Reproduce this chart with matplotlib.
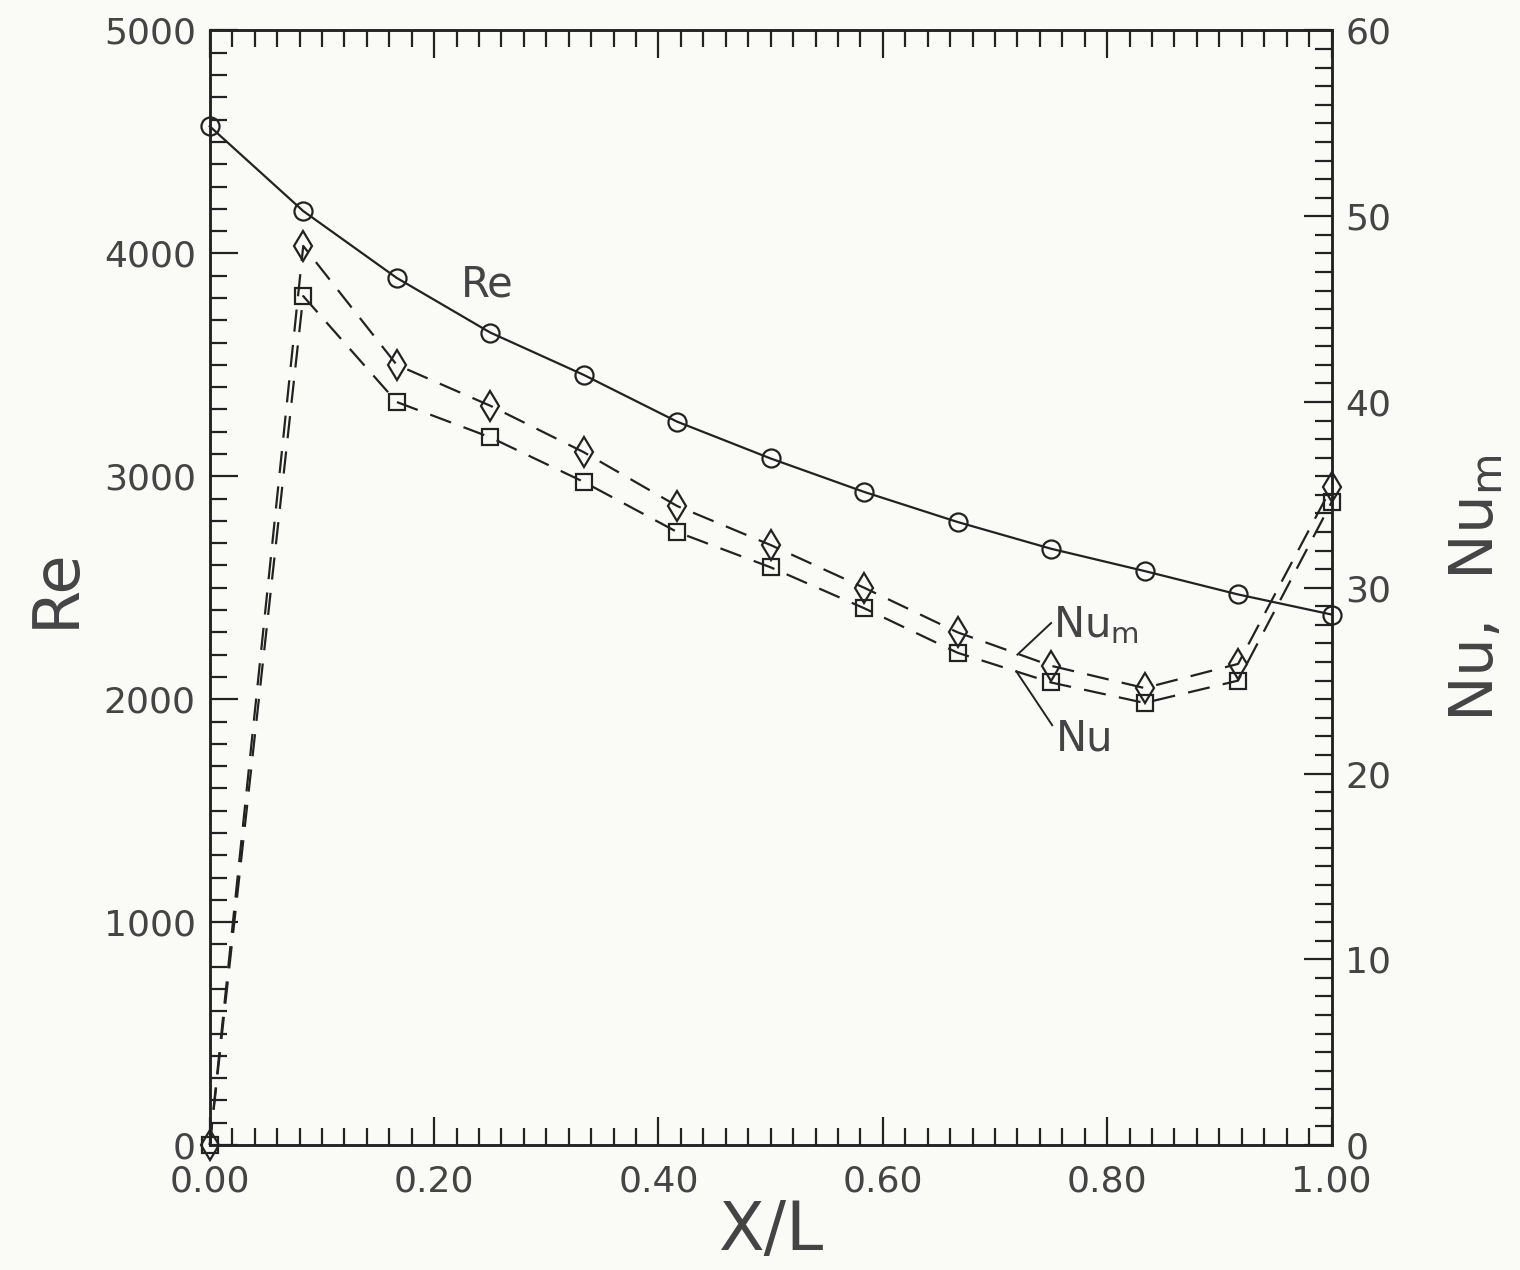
import numpy as np
import matplotlib
matplotlib.use('Agg')
import matplotlib.pyplot as plt
from matplotlib.ticker import MultipleLocator, FormatStrFormatter

# data
x_over_l = [0, 1/12, 2/12, 3/12, 4/12, 5/12, 6/12, 7/12, 8/12, 9/12, 10/12, 11/12, 1.0]
re_vals = [4570, 4190, 3890, 3645, 3455, 3245, 3080, 2930, 2795, 2675, 2575, 2470, 2380]
nu_m_vals = [0, 48.4, 42.0, 39.8, 37.3, 34.4, 32.3, 30.0, 27.6, 25.8, 24.6, 25.9, 35.4]
nu_vals = [0, 45.7, 40.0, 38.1, 35.7, 33.0, 31.1, 28.9, 26.5, 24.9, 23.8, 25.0, 34.6]

bg = '#fafaf7'
ink = '#222222'
txt = '#444444'
plt.rcParams['font.family'] = ['DejaVu Sans']

fig = plt.figure(figsize=(15.2, 12.7), dpi=100, facecolor=bg)
ax = fig.add_axes([0.138, 0.0984, 0.738, 0.8776])
ax.set_facecolor(bg)
ax2 = ax.twinx()

# Re curve on the left axis
ax.plot(x_over_l, re_vals, '-', color=ink, lw=1.6, marker='o', ms=13,
        mfc='none', mec=ink, mew=1.6, clip_on=False, zorder=5)

# Nu and Nu_m on the right axis
ax2.plot(x_over_l, nu_m_vals, color=ink, lw=1.6, dashes=(10, 6), marker='d',
         ms=15, mfc='none', mec=ink, mew=1.6, clip_on=False)
ax2.plot(x_over_l, nu_vals, color=ink, lw=1.6, dashes=(10, 6), marker='s',
         ms=11, mfc='none', mec=ink, mew=1.6, clip_on=False)

ax.set_xlim(0, 1)
ax.set_ylim(0, 5000)
ax2.set_ylim(0, 60)

ax.xaxis.set_major_locator(MultipleLocator(0.2))
ax.xaxis.set_minor_locator(MultipleLocator(0.02))
ax.yaxis.set_major_locator(MultipleLocator(1000))
ax.yaxis.set_minor_locator(MultipleLocator(100))
ax2.yaxis.set_major_locator(MultipleLocator(10))
ax2.yaxis.set_minor_locator(MultipleLocator(1))
ax.xaxis.set_major_formatter(FormatStrFormatter('%.2f'))
ax.yaxis.set_major_formatter(FormatStrFormatter('%d'))

ax.tick_params(axis='x', which='both', direction='in', top=True, bottom=True,
               color=ink, width=1.6, labelsize=26, labelcolor=txt, pad=14)
ax.tick_params(axis='y', which='both', direction='in', left=True, right=False,
               color=ink, width=1.6, labelsize=26, labelcolor=txt, pad=10)
ax2.tick_params(axis='y', which='both', direction='in', color=ink, width=1.6,
                labelsize=26, labelcolor=txt, pad=10)
for a in (ax, ax2):
    a.tick_params(which='major', length=20)
    a.tick_params(which='minor', length=12)
    for s in a.spines.values():
        s.set_color(ink)
        s.set_linewidth(1.8)

ax.set_xlabel('X/L', fontsize=48, color=txt, labelpad=0)
ax.set_ylabel('Re', fontsize=46, color=txt, labelpad=12)
ax2.set_ylabel(r'Nu,  Nu$_\mathregular{m}$', fontsize=44, color=txt,
               labelpad=40)

# curve labels with leader lines
ax.text(0.224, 3860, 'Re', fontsize=30, color=txt, ha='left', va='center')
ax2.text(0.752, 28.0, r'Nu$_\mathregular{m}$', fontsize=30, color=txt,
         ha='left', va='center')
ax2.text(0.754, 21.9, 'Nu', fontsize=30, color=txt, ha='left', va='center')
ax2.plot([0.720, 0.750], [26.4, 28.1], color=ink, lw=1.4)
ax2.plot([0.719, 0.751], [25.5, 22.6], color=ink, lw=1.4)

fig.savefig('out.png', dpi=100, facecolor=bg)
